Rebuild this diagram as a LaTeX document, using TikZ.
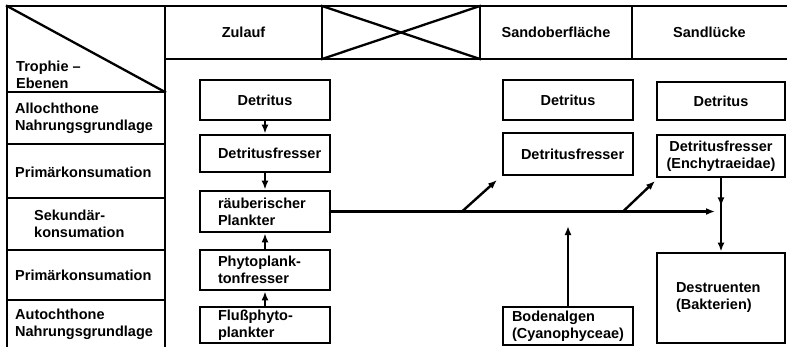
\documentclass[tikz,border=0pt]{standalone}
\usepackage{fontspec}
\setmainfont{Liberation Sans}
\usetikzlibrary{positioning,arrows.meta,calc}
\tikzset{
  grid/.style={line width=2.3pt,line cap=rect},
  box/.style={draw,line width=2.8pt,inner sep=0pt,minimum width=130pt,text width=94pt,align=center,font=\fontsize{14.5}{17}\bfseries\selectfont},
  lbl/.style={inner sep=0pt,align=left,anchor=west,font=\fontsize{14.5}{17}\bfseries\selectfont},
  head/.style={inner sep=0pt,font=\fontsize{14.5}{17}\bfseries\selectfont},
  arr/.style={-{Latex[length=9pt,width=7pt]},line width=2.4pt},
}
\begin{document}
\begin{tikzpicture}[x=1pt,y=-1pt]
\useasboundingbox (0,0) rectangle (787,346);
\draw[grid] (7,346) -- (7,6) -- (787,6);
\draw[grid] (165,6) -- (165,346);
\draw[grid] (165,59) -- (787,59);
\foreach \xx in {322,480,632} \draw[grid] (\xx,6) -- (\xx,59);
\draw[grid] (322,6) -- (480,59) (322,59) -- (480,6);
\draw[grid] (7,6) -- (165,92);
\foreach \yy in {92,144,198,250,300} \draw[grid] (7,\yy) -- (165,\yy);
\node[head] (zul) at (243.5,32) {Zulauf};
\node[head] (sob) at (556,32) {Sandoberfläche};
\node[head] (slu) at (709.5,32) {Sandlücke};
\node[lbl] (tro) at (16,75) {Trophie –\\Ebenen};
\node[lbl] (allo) at (15,118) {Allochthone\\Nahrungsgrundlage};
\node[lbl] (prim1) at (15,172) {Primärkonsumation};
\node[lbl] (sek) at (34,224) {Sekundär-\\konsumation};
\node[lbl] (prim2) at (15,275) {Primärkonsumation};
\node[lbl] (auto) at (15,324) {Autochthone\\Nahrungsgrundlage};
\node[box,minimum height=40pt] (det1) at (265,100) {Detritus};
\node[box,minimum height=37pt] (fre1) at (265,153.5) {Detritusfresser};
\node[box,minimum height=41pt,align=left] (rpl) at (265,211.5) {räuberischer\\Plankter};
\node[box,minimum height=40pt,align=left] (phy) at (265,270) {Phytoplank-\\tonfresser};
\node[box,minimum height=36pt,align=left] (flu) at (265,325) {Flußphyto-\\plankter};
\node[box,minimum height=40pt] (det2) at (568,100) {Detritus};
\node[box,minimum height=42pt] (fre2) at (568,154) {Detritusfresser};
\node[box,minimum height=38pt,text width=112pt,align=left] (bod) at (568,326) {Bodenalgen\\(Cyanophyceae)};
\node[box,minimum width=128pt,minimum height=38pt] (det3) at (721,101) {Detritus};
\node[box,minimum width=128pt,minimum height=42pt,text width=112pt] (enc) at (721,156) {Detritusfresser\\(Enchytraeidae)};
\node[box,minimum width=128pt,minimum height=90pt,text width=90pt,align=left] (des) at (721,298) {Destruenten\\(Bakterien)};
\draw[arr] (det1) -- (fre1);
\draw[arr] (fre1) -- (rpl);
\draw[arr] (phy) -- (rpl);
\draw[arr] (flu) -- (phy);
\coordinate (hz) at ($(enc.south |- rpl.east)+(-6,0)$);
\draw[arr] (rpl.east) -- (hz);
\coordinate (br1) at (462,211.5);
\coordinate (tp1) at (497,180);
\coordinate (br2) at (623,211.5);
\coordinate (tp2) at (655,181);
\draw[arr] (br1) -- (tp1);
\draw[arr] (br2) -- (tp2);
\coordinate (bt) at (bod.north |- 0,226);
\draw[arr] (bod.north) -- (bt);
\draw[arr] (enc.south) -- (des.north);
\draw[arr] (enc.south) -- ++(0,28);
\end{tikzpicture}
\end{document}
